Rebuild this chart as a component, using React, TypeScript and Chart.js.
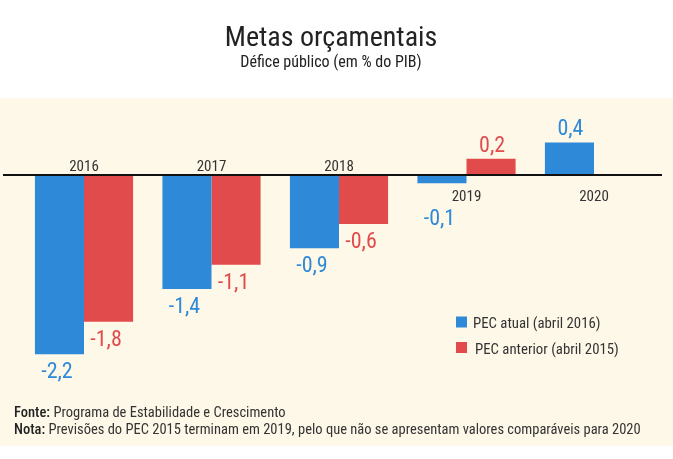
import React, { useEffect, useRef } from "react";
import { Chart, registerables } from "chart.js";

Chart.register(...registerables);

const TITLE = "Metas orçamentais";
const SUBTITLE = "Défice público (em % do PIB)";
const categories = ["2016", "2017", "2018", "2019", "2020"];
const seriesNames = ["PEC atual (abril 2016)", "PEC anterior (abril 2015)"];
const pecAtual = [-2.2, -1.4, -0.9, -0.1, 0.4];
const pecAnterior: (number | null)[] = [-1.8, -1.1, -0.6, 0.2, null];
const footerLines: [string, string][] = [
  ["Fonte:", " Programa de Estabilidade e Crescimento"],
  ["Nota:", " Previsões do PEC 2015 terminam em 2019, pelo que não se apresentam valores comparáveis para 2020"],
];

const BLUE = "#2e89d8";
const RED = "#e24b4b";
const CREAM = "#fef8e8";
const TEXT = "#333333";
const FONT = "'Roboto Condensed', Roboto, sans-serif";

const fmt = (v: number) => v.toFixed(1).replace(".", ",");

const decorPlugin = {
  id: "decor",
  beforeDraw(chart: any) {
    const { ctx, width } = chart;
    ctx.save();
    ctx.fillStyle = "#ffffff";
    ctx.fillRect(0, 0, width, chart.height);
    ctx.fillStyle = CREAM;
    ctx.fillRect(0, 98, width, 348);
    // title
    ctx.fillStyle = "#222222";
    ctx.textAlign = "center";
    ctx.textBaseline = "alphabetic";
    ctx.font = `28px ${FONT}`;
    ctx.fillText(TITLE, 331, 46);
    ctx.font = `16px ${FONT}`;
    ctx.fillText(SUBTITLE, 331, 67);
    ctx.restore();
  },
  afterDatasetsDraw(chart: any) {
    const { ctx } = chart;
    const x = chart.scales.x;
    const y = chart.scales.y;
    const y0 = y.getPixelForValue(0);
    ctx.save();
    // zero line
    ctx.strokeStyle = "#111111";
    ctx.lineWidth = 2;
    ctx.beginPath();
    ctx.moveTo(3, y0);
    ctx.lineTo(662, y0);
    ctx.stroke();

    // category labels
    ctx.font = `15px ${FONT}`;
    ctx.fillStyle = TEXT;
    ctx.textAlign = "center";
    ctx.textBaseline = "alphabetic";
    const below: boolean[] = [];
    categories.forEach((c, i) => {
      const vals = chart.data.datasets
        .map((d: any) => d.data[i])
        .filter((v: any) => v !== null && v !== undefined);
      const mx = Math.max(...vals);
      const isBelow = mx > 0;
      below.push(isBelow);
      const cx = x.getPixelForValue(i);
      ctx.fillText(c, cx, isBelow ? y0 + 26 : y0 - 4);
    });

    // value labels
    ctx.font = `22px ${FONT}`;
    chart.data.datasets.forEach((ds: any, di: number) => {
      const meta = chart.getDatasetMeta(di);
      ctx.fillStyle = ds.backgroundColor;
      meta.data.forEach((bar: any, i: number) => {
        const v = ds.data[i];
        if (v === null || v === undefined) return;
        const yp = y.getPixelForValue(v);
        let by: number;
        if (v < 0) {
          by = yp + 24;
          if (below[i]) by = Math.max(by, y0 + 26 + 24);
        } else {
          by = yp - 7;
        }
        ctx.fillText(fmt(v), bar.x + (v < 0 ? -2.5 : 1), by);
      });
    });

    // legend
    ctx.textAlign = "left";
    ctx.font = `14.8px ${FONT}`;
    chart.data.datasets.forEach((ds: any, di: number) => {
      const top = 316.5 + di * 25.5;
      ctx.fillStyle = ds.backgroundColor;
      ctx.fillRect(456, top, 11, 11);
      ctx.fillStyle = TEXT;
      ctx.fillText(ds.label, 473 + di * 2, top + 11.5);
    });

    // footer
    footerLines.forEach(([bold, rest], li) => {
      const by = 417 + li * 16.5;
      ctx.font = `500 14.5px ${FONT}`;
      ctx.fillStyle = "#222222";
      ctx.fillText(bold, 14, by);
      const w = ctx.measureText(bold).width;
      ctx.font = `14.5px ${FONT}`;
      ctx.fillStyle = TEXT;
      ctx.fillText(rest, 14 + w, by);
    });
    ctx.restore();
  },
};

export default function App() {
  const ref = useRef<HTMLCanvasElement>(null);
  useEffect(() => {
    const chart = new Chart(ref.current!, {
      type: "bar",
      data: {
        labels: categories,
        datasets: [
          { label: seriesNames[0], data: pecAtual, backgroundColor: BLUE, borderWidth: 0 },
          { label: seriesNames[1], data: pecAnterior, backgroundColor: RED, borderWidth: 0 },
        ],
      },
      options: {
        animation: false,
        responsive: false,
        maintainAspectRatio: false,
        datasets: { bar: { categoryPercentage: 0.77, barPercentage: 1.0 } },
        layout: { padding: { left: 20.25, right: 15.25, top: 101.65, bottom: 47.65 } },
        scales: {
          x: { display: false },
          y: { display: false, min: -2.9, max: 0.9 },
        },
        plugins: {
          legend: { display: false },
          title: { display: false },
          tooltip: { enabled: false },
        },
      },
      plugins: [decorPlugin],
    });
    return () => chart.destroy();
  }, []);
  return (
    <div style={{ position: "fixed", left: 0, top: 0, width: 673, height: 459 }}>
      <canvas ref={ref} width={673} height={459} style={{ display: "block" }} />
    </div>
  );
}
